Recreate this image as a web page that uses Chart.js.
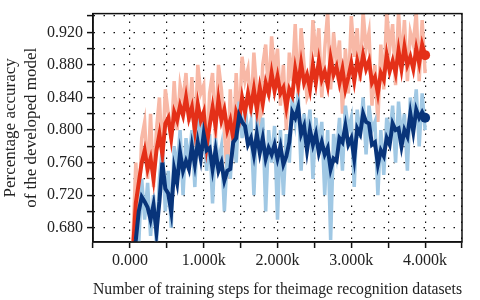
<!DOCTYPE html>
<html>
<head>
<meta charset="utf-8">
<title>Training accuracy</title>
<script src="https://cdn.jsdelivr.net/npm/chart.js@4.4.1/dist/chart.umd.min.js"></script>
<style>
  html, body { margin: 0; padding: 0; background: #fff; }
  #wrap { width: 480px; height: 300px; position: relative; }
</style>
</head>
<body>
<div id="wrap"><canvas id="accChart"></canvas></div>
<script>
// Training steps (x values)
const steps = [
  40, 80, 120, 160, 200, 240, 280, 320, 360, 400,
  440, 480, 520, 560, 600, 640, 680, 720, 760, 800,
  840, 880, 920, 960, 1000, 1040, 1080, 1120, 1160, 1200,
  1240, 1280, 1320, 1360, 1400, 1440, 1480, 1520, 1560, 1600,
  1640, 1680, 1720, 1760, 1800, 1840, 1880, 1920, 1960, 2000,
  2040, 2080, 2120, 2160, 2200, 2240, 2280, 2320, 2360, 2400,
  2440, 2480, 2520, 2560, 2600, 2640, 2680, 2720, 2760, 2800,
  2840, 2880, 2920, 2960, 3000, 3040, 3080, 3120, 3160, 3200,
  3240, 3280, 3320, 3360, 3400, 3440, 3480, 3520, 3560, 3600,
  3640, 3680, 3720, 3760, 3800, 3840, 3880, 3920, 3960, 4000
];

// Red run: raw values (light) and smoothed values (dark)
const redRaw = [
  0.660, 0.760, 0.700, 0.790, 0.810, 0.740, 0.820, 0.730, 0.800, 0.840,
  0.760, 0.850, 0.820, 0.790, 0.860, 0.800, 0.855, 0.835, 0.870, 0.810,
  0.865, 0.780, 0.880, 0.845, 0.855, 0.760, 0.845, 0.870, 0.790, 0.880,
  0.850, 0.800, 0.740, 0.850, 0.770, 0.870, 0.800, 0.890, 0.860, 0.875,
  0.820, 0.895, 0.845, 0.800, 0.880, 0.905, 0.840, 0.915, 0.870, 0.900,
  0.830, 0.880, 0.800, 0.895, 0.860, 0.930, 0.840, 0.925, 0.880, 0.840,
  0.850, 0.935, 0.890, 0.925, 0.840, 0.900, 0.945, 0.850, 0.920, 0.880,
  0.910, 0.820, 0.900, 0.845, 0.940, 0.890, 0.925, 0.860, 0.945, 0.900,
  0.920, 0.830, 0.880, 0.810, 0.905, 0.850, 0.945, 0.900, 0.930, 0.855,
  0.945, 0.880, 0.935, 0.860, 0.920, 0.905, 0.945, 0.860, 0.935, 0.870
];
const redSmooth = [
  0.650, 0.710, 0.735, 0.760, 0.775, 0.752, 0.765, 0.740, 0.775, 0.795,
  0.770, 0.808, 0.815, 0.790, 0.822, 0.812, 0.830, 0.818, 0.840, 0.815,
  0.828, 0.800, 0.832, 0.812, 0.822, 0.780, 0.805, 0.828, 0.805, 0.838,
  0.812, 0.825, 0.800, 0.812, 0.790, 0.822, 0.812, 0.840, 0.822, 0.845,
  0.828, 0.850, 0.825, 0.852, 0.832, 0.858, 0.845, 0.870, 0.848, 0.866,
  0.845, 0.852, 0.828, 0.850, 0.842, 0.875, 0.855, 0.882, 0.858, 0.868,
  0.850, 0.880, 0.858, 0.885, 0.862, 0.872, 0.855, 0.888, 0.868, 0.878,
  0.858, 0.875, 0.850, 0.865, 0.882, 0.860, 0.885, 0.870, 0.892, 0.875,
  0.885, 0.858, 0.865, 0.845, 0.870, 0.862, 0.892, 0.872, 0.885, 0.870,
  0.898, 0.875, 0.902, 0.880, 0.890, 0.875, 0.900, 0.882, 0.905, 0.892
];

// Blue run: raw values (light) and smoothed values (dark)
const blueRaw = [
  0.650, 0.690, 0.660, 0.740, 0.690, 0.735, 0.670, 0.720, 0.660, 0.740,
  0.780, 0.700, 0.750, 0.680, 0.780, 0.750, 0.800, 0.720, 0.790, 0.760,
  0.800, 0.730, 0.810, 0.790, 0.815, 0.750, 0.795, 0.710, 0.790, 0.760,
  0.780, 0.700, 0.770, 0.740, 0.800, 0.760, 0.835, 0.790, 0.830, 0.790,
  0.810, 0.720, 0.810, 0.790, 0.815, 0.700, 0.800, 0.760, 0.805, 0.690,
  0.800, 0.720, 0.795, 0.760, 0.840, 0.810, 0.845, 0.750, 0.820, 0.790,
  0.825, 0.740, 0.815, 0.780, 0.810, 0.720, 0.800, 0.665, 0.795, 0.770,
  0.815, 0.750, 0.830, 0.800, 0.815, 0.730, 0.825, 0.790, 0.840, 0.770,
  0.830, 0.800, 0.810, 0.720, 0.800, 0.745, 0.815, 0.790, 0.830, 0.760,
  0.835, 0.790, 0.820, 0.750, 0.840, 0.810, 0.850, 0.780, 0.845, 0.800
];
const blueSmooth = [
  0.640, 0.665, 0.700, 0.718, 0.712, 0.705, 0.690, 0.708, 0.675, 0.712,
  0.760, 0.728, 0.722, 0.700, 0.752, 0.735, 0.772, 0.750, 0.762, 0.752,
  0.780, 0.758, 0.785, 0.765, 0.795, 0.775, 0.778, 0.752, 0.775, 0.750,
  0.760, 0.738, 0.750, 0.752, 0.785, 0.790, 0.818, 0.810, 0.805, 0.782,
  0.790, 0.770, 0.795, 0.772, 0.790, 0.765, 0.778, 0.770, 0.782, 0.765,
  0.780, 0.758, 0.768, 0.785, 0.822, 0.815, 0.828, 0.795, 0.805, 0.775,
  0.800, 0.782, 0.795, 0.772, 0.785, 0.770, 0.778, 0.752, 0.765, 0.762,
  0.790, 0.785, 0.805, 0.782, 0.790, 0.765, 0.802, 0.795, 0.820, 0.810,
  0.808, 0.782, 0.785, 0.758, 0.775, 0.768, 0.790, 0.782, 0.808, 0.800,
  0.802, 0.780, 0.800, 0.792, 0.820, 0.798, 0.825, 0.815, 0.822, 0.815
];

// Axis ticks
const xTicks = [-500, 0, 500, 1000, 1500, 2000, 2500, 3000, 3500, 4000, 4500];
const xLabelled = [0, 1000, 2000, 3000, 4000];
const yTicks = [0.68, 0.70, 0.72, 0.74, 0.76, 0.78, 0.80, 0.82, 0.84, 0.86, 0.88, 0.90, 0.92, 0.94];
const yLabelled = [0.68, 0.72, 0.76, 0.80, 0.84, 0.88, 0.92];

const serif = "'Liberation Serif', 'DejaVu Serif', serif";

function toPoints(values) {
  return values.map((v, i) => ({ x: steps[i], y: v }));
}

// only the last point of a smoothed line gets a round marker
function lastPointRadius(context) {
  return context.dataIndex === steps.length - 1 ? 5 : 0;
}

// draws the closed frame around the plot area
const framePlugin = {
  id: 'frame',
  afterDraw(chart) {
    const a = chart.chartArea;
    const ctx = chart.ctx;
    ctx.save();
    ctx.strokeStyle = '#111';
    ctx.lineWidth = 1.5;
    ctx.strokeRect(a.left, a.top, a.right - a.left, a.bottom - a.top);
    ctx.restore();
  }
};

const ctx = document.getElementById('accChart').getContext('2d');
const accChart = new Chart(ctx, {
  type: 'line',
  data: {
    // "order": higher numbers are drawn first (further back)
    datasets: [
      {
        label: 'red raw',
        data: toPoints(redRaw),
        borderColor: 'rgb(248, 184, 166)',
        borderWidth: 3.5,
        pointRadius: 0,
        tension: 0,
        order: 4
      },
      {
        label: 'red smoothed',
        data: toPoints(redSmooth),
        borderColor: 'rgb(228, 48, 24)',
        backgroundColor: 'rgb(228, 48, 24)',
        borderWidth: 4,
        pointRadius: lastPointRadius,
        pointBorderWidth: 0,
        tension: 0,
        order: 2
      },
      {
        label: 'blue raw',
        data: toPoints(blueRaw),
        borderColor: 'rgb(160, 200, 228)',
        borderWidth: 3.5,
        pointRadius: 0,
        tension: 0,
        order: 3
      },
      {
        label: 'blue smoothed',
        data: toPoints(blueSmooth),
        borderColor: 'rgb(8, 52, 122)',
        backgroundColor: 'rgb(8, 52, 122)',
        borderWidth: 4,
        pointRadius: lastPointRadius,
        pointBorderWidth: 0,
        tension: 0,
        order: 1
      }
    ]
  },
  options: {
    responsive: true,
    maintainAspectRatio: false,
    animation: false,
    events: [],
    layout: { padding: { top: 2, right: 18, left: 0, bottom: 0 } },
    plugins: {
      legend: { display: false },
      tooltip: { enabled: false }
    },
    scales: {
      x: {
        type: 'linear',
        min: -500,
        max: 4500,
        afterBuildTicks: scale => { scale.ticks = xTicks.map(v => ({ value: v })); },
        afterFit: scale => { scale.height = 58; },
        ticks: {
          autoSkip: false,
          maxRotation: 0,
          color: '#222',
          font: { family: serif, size: 16 },
          padding: 3,
          callback: v => xLabelled.includes(v) ? (v === 0 ? '0.000' : (v / 1000).toFixed(3) + 'k') : ''
        },
        grid: {
          color: '#111',
          lineWidth: 1.2,
          tickLength: 6,
          tickColor: '#111',
          tickWidth: 1.5,
          tickBorderDash: []
        },
        border: { display: true, color: '#111', width: 1.5, dash: [1.5, 6.5] },
        title: {
          display: true,
          text: 'Number of training steps for theimage recognition datasets',
          color: '#222',
          font: { family: serif, size: 16.5 },
          padding: { top: 4, bottom: 0 }
        }
      },
      y: {
        min: 0.6625,
        max: 0.943,
        afterBuildTicks: scale => { scale.ticks = yTicks.map(v => ({ value: v })); },
        afterFit: scale => { scale.width = 93; },
        ticks: {
          autoSkip: false,
          color: '#222',
          font: { family: serif, size: 16 },
          padding: 4,
          callback: v => yLabelled.some(l => Math.abs(l - v) < 1e-6) ? v.toFixed(3) : ''
        },
        grid: {
          color: '#111',
          lineWidth: 1.2,
          tickLength: 6,
          tickColor: '#111',
          tickWidth: 1.5,
          tickBorderDash: []
        },
        border: { display: true, color: '#111', width: 1.5, dash: [1.5, 8.5] },
        title: {
          display: true,
          text: ['Percentage accuracy', 'of the developed model'],
          color: '#222',
          font: { family: serif, size: 17, lineHeight: 1.24 },
          padding: { top: 0, bottom: 2 }
        }
      }
    }
  },
  plugins: [framePlugin]
});
</script>
</body>
</html>
